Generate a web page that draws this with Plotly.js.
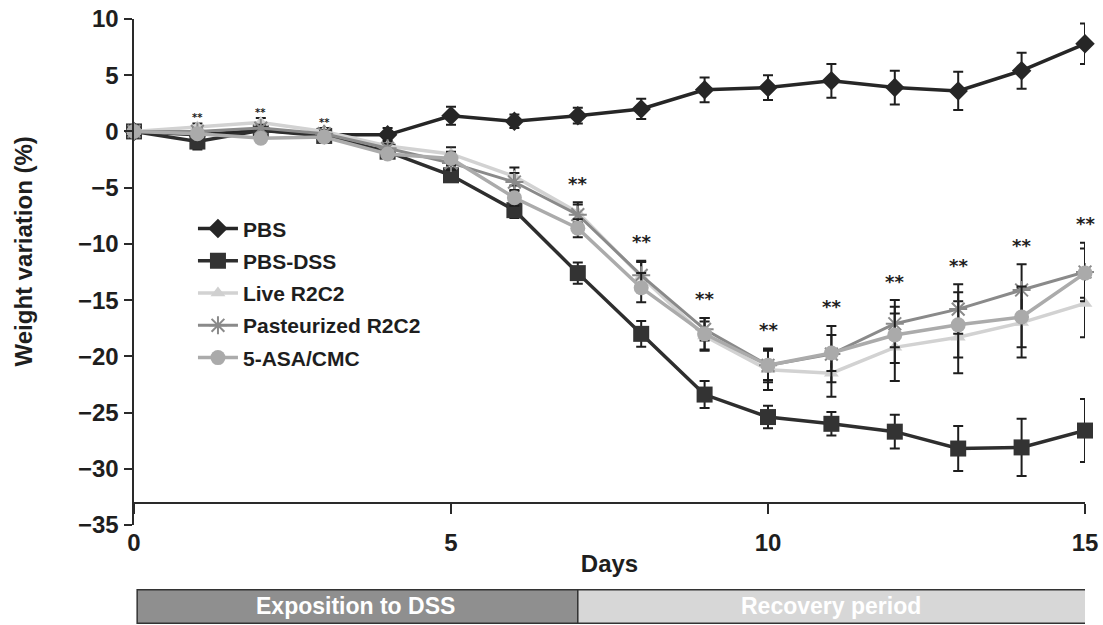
<!DOCTYPE html>
<html>
<head>
<meta charset="utf-8">
<script src="https://cdn.plot.ly/plotly-3.0.1.min.js"></script>
<style>html,body{margin:0;padding:0;background:#fff;}#chart{width:1103px;height:625px;}</style>
</head>
<body>
<div id="chart"></div>
<script>
// ---- data ----
const days = [0,1,2,3,4,5,6,7,8,9,10,11,12,13,14,15];

const pbs     = [0, -0.3, 0.1, -0.3, -0.3, 1.4, 0.9, 1.4, 2.0, 3.7, 3.9, 4.5, 3.9, 3.6, 5.4, 7.8];
const pbsErr  = [0, 0.4, 0.4, 0.4, 0.6, 0.8, 0.6, 0.7, 0.9, 1.1, 1.1, 1.5, 1.5, 1.7, 1.6, 1.8];

const pbsDss    = [0, -0.9, 0.1, -0.4, -1.8, -3.9, -7.0, -12.6, -18.0, -23.4, -25.4, -26.0, -26.7, -28.2, -28.1, -26.6];
const pbsDssErr = [0, 0.7, 0.4, 0.4, 0.5, 0.6, 0.7, 0.95, 1.15, 1.2, 1.0, 1.05, 1.5, 2.0, 2.55, 2.8];

const liveR2C2    = [0, 0.4, 0.8, 0.0, -1.3, -2.0, -4.0, -7.2, -12.9, -18.2, -21.2, -21.5, -19.2, -18.3, -17.0, -15.3];
const liveR2C2Err = [0, 0.3, 0.4, 0.3, 0.5, 0.6, 0.8, 0.9, 1.4, 1.3, 1.8, 2.1, 3.0, 3.2, 3.1, 3.0];

const pastR2C2    = [0, 0.0, 0.3, -0.2, -1.5, -2.8, -4.5, -7.4, -12.8, -17.6, -20.8, -19.8, -17.1, -15.8, -14.1, -12.5];
const pastR2C2Err = [0, 0.3, 0.3, 0.3, 0.4, 0.6, 0.8, 0.9, 1.2, 1.0, 1.5, 2.5, 2.1, 2.2, 2.3, 2.6];

const asaCmc    = [0, -0.2, -0.6, -0.5, -2.0, -2.4, -5.9, -8.6, -13.9, -18.0, -20.8, -19.7, -18.1, -17.2, -16.5, -12.6];
const asaCmcErr = [0, 0.3, 0.3, 0.3, 0.4, 0.6, 0.7, 0.8, 1.3, 1.4, 1.3, 1.6, 2.5, 2.9, 2.7, 2.2];

const seriesNames = ['PBS', 'PBS-DSS', 'Live R2C2', 'Pasteurized R2C2', '5-ASA/CMC'];

const sigDays  = [1, 2, 3, 7, 8, 9, 10, 11, 12, 13, 14, 15];
const sigLabel = '**';

const phaseLabels = ['Exposition to DSS', 'Recovery period'];
const phaseStart  = [0, 7];
const phaseEnd    = [7, 15];

const xTicks = [0, 5, 10, 15];
const yTicks = [10, 5, 0, -5, -10, -15, -20, -25, -30, -35];

const xTitle = 'Days';
const yTitle = 'Weight variation (%)';

// ---- styles ----
const FONT = '"Liberation Sans", Arial, Helvetica, sans-serif';
const errStyle = (arr) => ({type: 'data', array: arr, visible: true, color: '#1e1e1e', thickness: 2, width: 5});

const styles = [
  {line: '#262626', lw: 3.5, marker: {symbol: 'diamond', size: 15, color: '#262626'}},
  {line: '#2e2e2e', lw: 3.5, marker: {symbol: 'square', size: 16, color: '#333333'}},
  {line: '#d2d2d2', lw: 3.5, marker: {symbol: 'triangle-up', size: 13, color: '#d0d0d0'}},
  {line: '#8a8a8a', lw: 3, marker: {symbol: 'asterisk-open', size: 15, color: '#8a8a8a', line: {color: '#8a8a8a', width: 2}}},
  {line: '#ababab', lw: 3.5, marker: {symbol: 'circle', size: 15, color: '#aaaaaa'}}
];

const values = [pbs, pbsDss, liveR2C2, pastR2C2, asaCmc];
const errors = [pbsErr, pbsDssErr, liveR2C2Err, pastR2C2Err, asaCmcErr];

const traces = values.map((v, i) => ({
  type: 'scatter', mode: 'lines+markers',
  x: days, y: v, name: seriesNames[i], legendgroup: 'g' + i,
  line: {color: styles[i].line, width: styles[i].lw},
  marker: styles[i].marker,
  error_y: errStyle(errors[i]),
  cliponaxis: false
}));

// significance stars placed above the highest treated-group error bar
const annotations = sigDays.map(d => {
  const idx = days.indexOf(d);
  const tops = [liveR2C2, pastR2C2, asaCmc].map((arr, k) => arr[idx] + [liveR2C2Err, pastR2C2Err, asaCmcErr][k][idx]);
  const small = d < 5;
  return {
    x: d, y: Math.max(...tops) + (small ? 0.5 : 1.7), xref: 'x', yref: 'y',
    text: sigLabel, showarrow: false, yanchor: 'middle',
    font: {family: '"DejaVu Sans", sans-serif', size: small ? 10 : 18, color: '#1e1e1e', weight: 'bold'}
  };
});

// y axis title as annotation for precise placement
annotations.push({x: -0.116, y: 0.54, xref: 'paper', yref: 'paper', text: yTitle, textangle: -90,
  showarrow: false, xanchor: 'center', yanchor: 'middle',
  font: {family: FONT, size: 24, color: '#1e1e1e', weight: 'bold'}});

// phase bar below the axis
const shapes = [];
const barTop = -0.128, barBot = -0.194;
const phaseColors = ['#8f8f8f', '#d7d7d7'];
phaseLabels.forEach((lab, i) => {
  shapes.push({type: 'rect', xref: 'x', yref: 'paper', x0: phaseStart[i] + (i === 0 ? 0.05 : 0), x1: phaseEnd[i] + (i === 1 ? 0.05 : 0),
    y0: barBot, y1: barTop, fillcolor: phaseColors[i], line: {color: '#333', width: 1.5}, layer: 'above'});
  annotations.push({x: (phaseStart[i] + phaseEnd[i]) / 2, y: (barTop + barBot) / 2, xref: 'x', yref: 'paper',
    text: lab, showarrow: false, yanchor: 'middle',
    font: {family: FONT, size: 23, color: '#ffffff', weight: 'bold'}});
});

const layout = {
  width: 1103, height: 625,
  margin: {l: 134, r: 18, t: 19, b: 100},
  paper_bgcolor: '#ffffff', plot_bgcolor: '#ffffff',
  font: {family: FONT, color: '#1e1e1e'},
  showlegend: true,
  legend: {x: 0.062, y: 0.626, xanchor: 'left', yanchor: 'top', bgcolor: 'rgba(0,0,0,0)', itemwidth: 40,
    font: {family: FONT, size: 21, color: '#1e1e1e', weight: 'bold'}, tracegroupgap: 2},
  xaxis: {
    range: [0, 15], anchor: 'free', position: 2 / 45,
    tickvals: xTicks, ticks: 'outside', ticklen: 10, tickwidth: 2, tickcolor: '#2a2a2a',
    showline: true, linewidth: 2.5, linecolor: '#2a2a2a', showgrid: false, zeroline: false,
    tickfont: {family: FONT, size: 24, color: '#1e1e1e', weight: 'bold'},
    ticklabelstandoff: 8,
    title: {text: xTitle, font: {family: FONT, size: 24, color: '#1e1e1e', weight: 'bold'}, standoff: 0}
  },
  yaxis: {
    range: [-35, 10], tickvals: yTicks, ticks: 'outside', ticklen: 8, tickwidth: 2, tickcolor: '#2a2a2a',
    showline: true, linewidth: 2.5, linecolor: '#2a2a2a', showgrid: false, zeroline: false,
    tickfont: {family: FONT, size: 24, color: '#1e1e1e', weight: 'bold'}
  },
  shapes: shapes,
  annotations: annotations
};

Plotly.newPlot('chart', traces, layout, {displayModeBar: false, staticPlot: true});
</script>
</body>
</html>
